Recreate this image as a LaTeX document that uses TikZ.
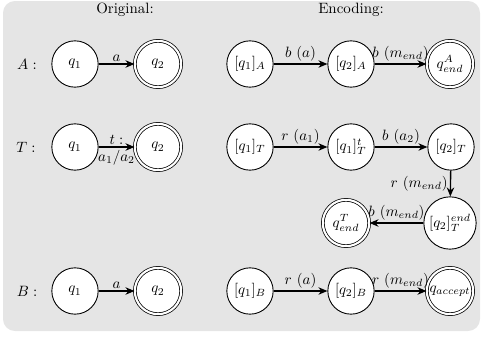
\documentclass[tikz,border=0pt]{standalone}
\usetikzlibrary{arrows.meta}
\begin{document}
\begin{tikzpicture}[x=0.669pt,y=-0.669pt,
  st/.style={circle,draw,line width=0.6pt,fill=white,minimum size=31pt,inner sep=0pt},
  acc/.style={st,double,double distance=1.4pt,line width=0.5pt},
  tr/.style={-{Stealth[length=6pt,width=5pt]},line width=0.9pt},
  lbl/.style={inner sep=1.5pt}]
\useasboundingbox (0,0) rectangle (484,338);
\fill[black!10,rounded corners=8pt] (3,1) rectangle (480,331);
\node (t1) at (125,10) {Original:};
\node (t2) at (351,10) {Encoding:};
% row A
\node (lA) at (27,64) {$A:$};
\node[st] (A1) at (75,64) {$q_1$};
\node[acc] (A2) at (158,64) {$q_2$};
\node[st] (EA1) at (250,64) {$[q_1]_A$};
\node[st] (EA2) at (351,64) {$[q_2]_A$};
\node[acc] (EA3) at (450,64) {$q^A_{end}$};
\draw[tr] (A1) -- node[lbl,above]{$a$} (A2);
\draw[tr] (EA1) -- node[lbl,above]{$b~(a)$} (EA2);
\draw[tr] (EA2) -- node[lbl,above]{$b~(m_{end})$} (EA3);
% row T
\node (lT) at (26,147) {$T:$};
\node[st] (T1) at (75,147) {$q_1$};
\node[acc] (T2) at (158,147) {$q_2$};
\node[st] (ET1) at (250,147) {$[q_1]_T$};
\node[st] (ET2) at (351,147) {$[q_1]^t_T$};
\node[st] (ET3) at (451,147) {$[q_2]_T$};
\node[st,minimum size=35pt] (ET4) at (450,223) {$[q_2]^{end}_T$};
\node[acc] (ET5) at (346,223) {$q^T_{end}$};
\draw[tr] (T1) -- node[lbl,above]{$t:$} node[lbl,below]{$a_1/a_2$} (T2);
\draw[tr] (ET1) -- node[lbl,above]{$r~(a_1)$} (ET2);
\draw[tr] (ET2) -- node[lbl,above]{$b~(a_2)$} (ET3);
\draw[tr] (ET3) -- node[lbl,left]{$r~(m_{end})$} (ET4);
\draw[tr] (ET4) -- node[lbl,above]{$b~(m_{end})$} (ET5);
% row B
\node (lB) at (27,291) {$B:$};
\node[st] (B1) at (75,291) {$q_1$};
\node[acc] (B2) at (158,291) {$q_2$};
\node[st] (EB1) at (250,291) {$[q_1]_B$};
\node[st] (EB2) at (351,291) {$[q_2]_B$};
\node[acc] (EB3) at (450,291) {$q_{accept}$};
\draw[tr] (B1) -- node[lbl,above]{$a$} (B2);
\draw[tr] (EB1) -- node[lbl,above]{$r~(a)$} (EB2);
\draw[tr] (EB2) -- node[lbl,above]{$r~(m_{end})$} (EB3);
\end{tikzpicture}
\end{document}
